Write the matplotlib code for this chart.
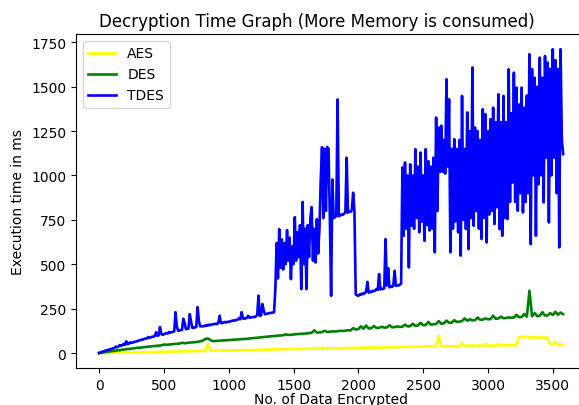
import numpy as np
import matplotlib
matplotlib.use("Agg")
import matplotlib.pyplot as plt

# TDES sampled every 10 records, AES/DES every 20 records
tdes_x = np.arange(0, 3590, 10)
tdes = [
    0, 3, 6, 9, 10, 14, 15, 18, 19, 23, 24, 27, 28, 36, 33, 36, 45, 40, 44, 52,
    46, 66, 50, 52, 60, 57, 59, 63, 63, 66, 68, 71, 72, 76, 76, 80, 82, 82, 90, 86,
    88, 92, 92, 96, 117, 97, 100, 146, 108, 103, 105, 109, 112, 110, 118, 114, 118, 120, 122, 230,
    150, 125, 127, 129, 130, 193, 170, 134, 136, 138, 219, 175, 141, 142, 145, 146, 259, 180, 150, 151,
    150, 153, 152, 158, 155, 160, 157, 161, 162, 163, 165, 163, 168, 210, 170, 168, 172, 175, 172, 176,
    175, 178, 180, 183, 181, 185, 186, 188, 196, 190, 230, 195, 193, 195, 198, 210, 199, 200, 202, 203,
    202, 206, 215, 323, 210, 212, 276, 240, 218, 220, 222, 224, 226, 226, 228, 230, 360, 620, 420, 698,
    480, 640, 470, 620, 500, 692, 520, 650, 416, 600, 500, 765, 520, 680, 540, 720, 360, 851, 500, 700,
    360, 720, 540, 760, 822, 520, 700, 510, 754, 560, 700, 977, 1159, 760, 1150, 800, 1160, 1150, 780, 322,
    977, 760, 765, 770, 1428, 770, 775, 780, 778, 785, 790, 1100, 790, 800, 795, 805, 903, 800, 330, 325,
    322, 330, 328, 335, 332, 338, 345, 401, 340, 345, 343, 350, 348, 352, 360, 355, 445, 358, 362, 360,
    365, 642, 380, 478, 370, 375, 372, 380, 463, 378, 382, 380, 385, 390, 1045, 660, 1073, 700, 1000, 482,
    1063, 716, 1000, 700, 1148, 760, 1050, 680, 1129, 740, 1000, 632, 1148, 720, 1080, 690, 1050, 700, 1100, 567,
    1326, 800, 1270, 1020, 1280, 1020, 1200, 1010, 1542, 1050, 1429, 567, 1150, 700, 1204, 740, 1150, 680, 1200, 548,
    1448, 750, 1150, 698, 1355, 585, 1250, 760, 1608, 716, 1270, 800, 1250, 700, 1200, 642, 1373, 760, 1345, 623,
    1250, 780, 1317, 800, 1382, 726, 1300, 820, 1457, 698, 1300, 660, 1448, 760, 1300, 754, 1598, 850, 1350, 960,
    1579, 850, 1495, 801, 1400, 900, 1495, 791, 1382, 850, 1450, 900, 1683, 613, 1598, 1000, 1550, 660, 1500, 950,
    1664, 1000, 1550, 848, 1673, 1100, 1636, 735, 1600, 1000, 1711, 1100, 1650, 900, 1600, 595, 1711, 1200, 1120,
]

small_x = np.arange(0, 3600, 20)
des = [
    0, 2, 4, 7, 8, 11, 12, 15, 16, 19, 20, 23, 23, 26, 27, 30, 30, 33, 34, 36,
    37, 39, 40, 42, 43, 48, 46, 48, 49, 51, 52, 53, 58, 55, 57, 59, 60, 61, 63, 66,
    70, 79, 82, 72, 67, 68, 69, 70, 71, 72, 73, 74, 75, 76, 77, 78, 79, 80, 82, 83,
    85, 86, 88, 89, 91, 92, 94, 95, 96, 98, 99, 100, 105, 102, 103, 104, 106, 107, 108, 109,
    110, 112, 114, 128, 115, 116, 118, 125, 119, 120, 122, 121, 123, 125, 124, 126, 128, 127, 140, 132,
    135, 150, 137, 155, 138, 140, 152, 141, 142, 148, 143, 144, 156, 145, 146, 150, 147, 148, 160, 150,
    151, 165, 153, 155, 170, 157, 158, 175, 160, 162, 163, 180, 165, 167, 183, 170, 171, 185, 175, 177,
    180, 195, 182, 190, 184, 185, 200, 187, 188, 195, 190, 191, 210, 193, 194, 205, 196, 197, 200, 199,
    200, 215, 202, 203, 220, 205, 351, 207, 225, 208, 210, 230, 211, 212, 225, 214, 232, 216, 228, 219,
]
aes = [
    0, 0, 1, 1, 1, 1, 2, 2, 2, 2, 3, 3, 3, 3, 4, 4, 4, 4, 5, 5,
    5, 6, 6, 6, 7, 7, 7, 8, 8, 8, 8, 9, 9, 9, 10, 10, 10, 11, 11, 11,
    12, 12, 51, 13, 13, 13, 14, 14, 14, 15, 15, 15, 16, 15, 16, 16, 17, 16, 17, 17,
    18, 18, 18, 19, 19, 19, 20, 20, 20, 21, 21, 21, 22, 22, 22, 23, 22, 23, 23, 23,
    24, 24, 25, 25, 25, 25, 30, 26, 26, 26, 27, 27, 27, 28, 27, 28, 28, 28, 29, 29,
    29, 30, 30, 30, 31, 30, 31, 31, 32, 31, 32, 32, 33, 32, 33, 33, 34, 33, 34, 34,
    34, 35, 35, 36, 35, 36, 40, 36, 37, 37, 37, 98, 38, 38, 37, 38, 38, 39, 38, 39,
    55, 39, 40, 40, 45, 40, 41, 41, 41, 50, 41, 42, 42, 42, 48, 43, 43, 43, 44, 44,
    44, 45, 88, 92, 90, 91, 88, 90, 87, 89, 86, 88, 85, 87, 50, 48, 62, 45, 50, 45,
]

fig = plt.figure(figsize=(5.79, 4.06), dpi=100)
ax = fig.add_axes([0.131, 0.0906, 0.8817, 0.8232])
ax.plot(small_x, aes, color="yellow", lw=1.9, label="AES")
ax.plot(small_x, des, color="green", lw=1.9, label="DES")
ax.plot(tdes_x, tdes, color="blue", lw=1.9, label="TDES")
ax.set_title("Decryption Time Graph (More Memory is consumed)", fontsize=12, x=0.473)
ax.set_xlabel("No. of Data Encrypted", labelpad=0)
ax.set_ylabel("Execution time in ms")
ax.set_xticks(range(0, 3501, 500))
ax.set_yticks(range(0, 1751, 250))
ax.legend(loc="upper left")
fig.savefig("out.png", dpi=100)
